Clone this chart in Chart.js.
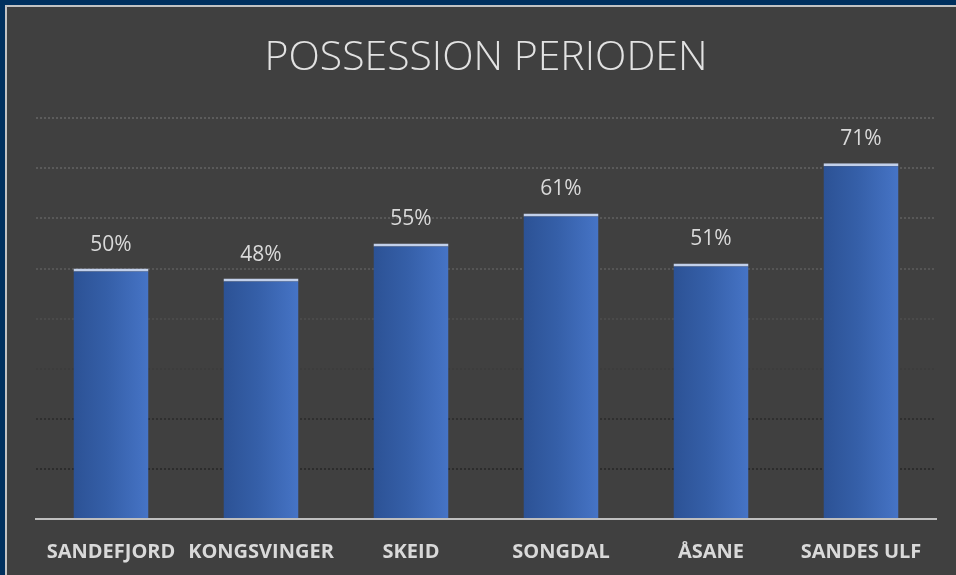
<!DOCTYPE html>
<html>
<head>
<meta charset="utf-8">
<script src="https://cdn.jsdelivr.net/npm/chart.js@4.4.1/dist/chart.umd.min.js"></script>
<style>
  html, body { margin: 0; padding: 0; background: #00305e; overflow: hidden; }
  #frame {
    position: absolute; left: 5px; top: 5px; width: 960px; height: 580px;
    background: #404040; border-left: 2px solid #c3c3c3; border-top: 2px solid #c3c3c3;
  }
  #wrap { position: absolute; left: 0; top: 0; width: 956px; height: 575px; }
</style>
</head>
<body>
<div id="frame"></div>
<div id="wrap"><canvas id="c1" width="956" height="575"></canvas></div>
<script>
/* ── Data ───────────────────────────────────────────── */
const TEAMS      = ['SANDEFJORD', 'KONGSVINGER', 'SKEID', 'SONGDAL', 'ÅSANE', 'SANDES ULF'];
const POSSESSION = [50, 48, 55, 61, 51, 71];
const Y_MAX      = 80;
const Y_STEP     = 10;

/* grid lines fade from lighter (top) to darker (bottom) */
const GRID_SHADE = {
    10: '#2c2c2c', 20: '#2f2f2f', 30: '#3c3c3c', 40: '#4a4a4a',
    50: '#555555', 60: '#585858', 70: '#5a5a5a', 80: '#5c5c5c',
};

const TEXT = '#d9d9d9';

/* ── Horizontal gradient per bar ────────────────────── */
function barFill(ctx) {
    const chart = ctx.chart;
    const xs = chart.scales.x;
    if (!xs || ctx.dataIndex === undefined) return '#3a65b0';
    const cx   = xs.getPixelForValue(ctx.dataIndex);
    const half = (xs.width / TEAMS.length) * 0.5 / 2;
    if (!isFinite(cx) || !isFinite(half) || half <= 0) return '#3a65b0';
    const g = chart.ctx.createLinearGradient(cx - half, 0, cx + half, 0);
    g.addColorStop(0,    '#2c5295');
    g.addColorStop(0.45, '#355fa8');
    g.addColorStop(1,    '#4674c6');
    return g;
}

/* ── Value labels above bars ────────────────────────── */
const valueLabels = {
    id: 'valueLabels',
    afterDatasetsDraw(chart) {
        const c = chart.ctx;
        const meta = chart.getDatasetMeta(0);
        c.save();
        c.font = '21px "Open Sans", sans-serif';
        c.fillStyle = TEXT;
        c.textAlign = 'center';
        c.textBaseline = 'alphabetic';
        meta.data.forEach(function (bar, i) {
            c.fillText(POSSESSION[i] + '%', bar.x, bar.y - 18);
        });
        c.restore();
    },
};

new Chart(document.getElementById('c1'), {
    type : 'bar',
    data : {
        labels   : TEAMS,
        datasets : [{
            data               : POSSESSION,
            backgroundColor    : barFill,
            borderColor        : '#c2d0ea',
            borderWidth        : { top: 3, left: 0, right: 0, bottom: 0 },
            borderSkipped      : 'start',
            barPercentage      : 0.5,
            categoryPercentage : 1,
        }],
    },
    options : {
        responsive : false,
        animation  : false,
        layout     : { padding: { left: 36, right: 20, top: 0, bottom: 0 } },
        plugins    : {
            legend  : { display: false },
            tooltip : { enabled: false },
            title   : {
                display : true,
                text    : 'POSSESSION PERIODEN',
                color   : '#e2e2e2',
                font    : { family: 'Open Sans', size: 41, weight: '300', lineHeight: 1.2 },
                padding : { top: 34, bottom: 35 },
            },
        },
        scales : {
            x : {
                grid   : { display: false, drawTicks: false },
                border : { display: true, color: '#bfbfbf', width: 2 },
                ticks  : {
                    color       : TEXT,
                    padding     : 21,
                    maxRotation : 0,
                    font        : { family: 'Open Sans', size: 20, weight: 'bold', lineHeight: 1.2 },
                },
                afterFit : function (scale) { scale.height = 56; },
            },
            y : {
                min    : 0,
                max    : Y_MAX,
                ticks  : { display: false, stepSize: Y_STEP },
                border : { display: false, dash: [2, 2] },
                grid   : {
                    drawTicks : false,
                    lineWidth : 2,
                    color     : function (ctx) {
                        return GRID_SHADE[ctx.tick.value] || 'rgba(0,0,0,0)';
                    },
                },
            },
        },
    },
    plugins : [valueLabels],
});
</script>
</body>
</html>
